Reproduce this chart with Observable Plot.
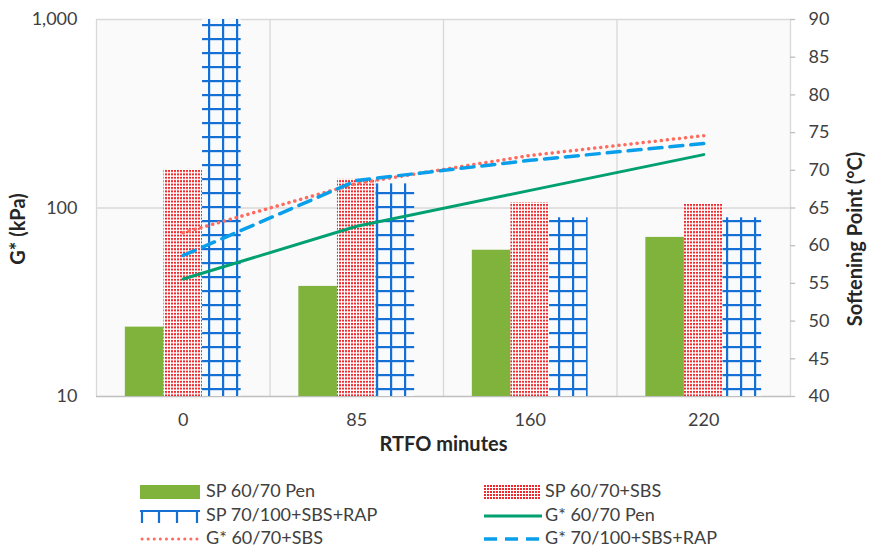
<!DOCTYPE html>
<html>
<head>
<meta charset="utf-8">
<script src="https://cdn.jsdelivr.net/npm/d3@7"></script>
<script src="https://cdn.jsdelivr.net/npm/@observablehq/plot@0.6"></script>
<style>
  body { margin: 0; background: #fff; font-family: Lato, "Open Sans", sans-serif; }
  #wrap { position: relative; width: 870px; height: 548px; }
  .lg { position: absolute; font-size: 18px; color: #404040; line-height: 20px; white-space: nowrap; }
  .sw { position: absolute; }
</style>
</head>
<body>
<div id="wrap"></div>
<script>
// ---- data ----
const categories = ["0", "85", "160", "220"];
const seriesNames = ["SP 60/70 Pen", "SP 60/70+SBS", "SP 70/100+SBS+RAP", "G* 60/70 Pen", "G* 60/70+SBS", "G* 70/100+SBS+RAP"];
// softening point (°C), right axis
const spPen = [49.2, 54.6, 59.4, 61.1];
const spSBS = [70.0, 68.8, 65.7, 65.6];
const spRAP = [90.0, 68.2, 63.7, 63.7];
// G* (kPa), left log axis
const gPen = [42, 80, 124, 192];
const gSBS = [74, 135, 190, 242];
const gRAP = [56, 140, 179, 220];
const leftTicks = [10, 100, 1000];
const rightTicks = [40, 45, 50, 55, 60, 65, 70, 75, 80, 85, 90];

// map softening point linear [40,90] onto log G* [10,1000]
const spToG = v => 10 * Math.pow(100, (v - 40) / 50);

const barW = 0.2225; // bar width in category units
const barRows = (vals, k) => vals.map((v, i) => ({i, x1: i + (k - 1.5) * barW, x2: i + (k - 0.5) * barW, top: spToG(v)}));
const lineRows = vals => vals.map((v, i) => ({i, g: v}));

const chart = Plot.plot({
  width: 870,
  height: 465,
  marginLeft: 96,
  marginRight: 80,
  marginTop: 19,
  marginBottom: 69,
  style: {fontFamily: "Lato, 'Open Sans', sans-serif", fontSize: "18px", color: "#404040", background: "transparent"},
  x: {domain: [-0.5, 3.5], axis: null},
  y: {type: "log", domain: [10, 1000], axis: null},
  marks: [
    Plot.frame({fill: "#fafafa", stroke: null}),
    Plot.ruleX([-0.5, 0.5, 1.5, 2.5, 3.5], {stroke: "#d9d9d9", strokeWidth: 1.3}),
    Plot.ruleY([100, 1000], {stroke: "#d9d9d9", strokeWidth: 1.3}),
    Plot.ruleY([10], {stroke: "#bfbfbf", strokeWidth: 1.3}),
    Plot.rectY(barRows(spPen, 0), {x1: "x1", x2: "x2", y1: 10, y2: "top", fill: "#80b33c"}),
    Plot.rectY(barRows(spSBS, 1), {x1: "x1", x2: "x2", y1: 10, y2: "top", fill: "url(#pRed)"}),
    Plot.rectY(barRows(spRAP, 2), {x1: "x1", x2: "x2", y1: 10, y2: "top", fill: "url(#pBlue)"}),
    Plot.line(lineRows(gPen), {x: "i", y: "g", stroke: "#00a070", strokeWidth: 3}),
    Plot.line(lineRows(gSBS), {x: "i", y: "g", stroke: "#ff6b5e", strokeWidth: 3.5, strokeDasharray: "0.1 6", strokeLinecap: "round"}),
    Plot.line(lineRows(gRAP), {x: "i", y: "g", stroke: "#0a9fea", strokeWidth: 3.5, strokeDasharray: "13 8"}),
    // x axis
    Plot.axisX([0, 1, 2, 3], {tickSize: 0, tickPadding: 17, tickFormat: i => categories[i], label: null, fontSize: 18}),
    // left axis
    Plot.axisY(leftTicks, {anchor: "left", tickSize: 0, tickPadding: 19, tickFormat: d3.format(","), label: null, fontSize: 18}),
    // right axis (softening point)
    Plot.ruleY(rightTicks, {y: d => spToG(d), x1: 3.5, x2: 3.53, stroke: "#bfbfbf", strokeWidth: 1.3}),
    Plot.text(rightTicks, {y: d => spToG(d), text: d => String(d), frameAnchor: "right", textAnchor: "start", dx: 18, fontSize: 18, fill: "#404040"}),
    // titles
    Plot.text(["RTFO minutes"], {frameAnchor: "bottom", textAnchor: "middle", dy: 54, fontWeight: "bold", fontSize: 20, fill: "#262626"}),
    Plot.text(["G* (kPa)"], {frameAnchor: "left", textAnchor: "middle", dx: -78, dy: 21, rotate: -90, fontWeight: "bold", fontSize: 20, fill: "#262626"}),
    Plot.text(["Softening Point (°C)"], {frameAnchor: "right", textAnchor: "middle", dx: 65, dy: 31, rotate: -90, fontWeight: "bold", fontSize: 20, fill: "#262626"})
  ]
});

d3.select(chart).insert("defs", ":first-child").html(`
  <pattern id="pRed" patternUnits="userSpaceOnUse" width="3" height="3.4">
    <rect width="3" height="3.4" fill="#ffffff"/>
    <rect width="2" height="2" fill="#ee2a2e"/>
  </pattern>
  <pattern id="pBlue" patternUnits="userSpaceOnUse" x="6" y="0" width="14" height="14">
    <rect width="14" height="14" fill="#f9fafc"/>
    <rect x="6" y="0" width="2.2" height="14" fill="#1570d6"/>
    <rect x="0" y="10" width="14" height="2.2" fill="#1570d6"/>
  </pattern>
  <pattern id="pRedL" patternUnits="userSpaceOnUse" width="3" height="3">
    <rect width="3" height="3" fill="#ffffff"/>
    <rect width="2" height="2" fill="#ee2a2e"/>
  </pattern>
`);

const wrap = document.getElementById("wrap");
wrap.appendChild(chart);
chart.style.position = "absolute";
chart.style.left = "0px";
chart.style.top = "0px";

// ---- legend ----
const swatches = [
  `<svg width="60" height="14"><rect x="0" y="0" width="60" height="14" fill="#80b33c"/></svg>`,
  `<svg width="56" height="14"><rect x="0" y="0" width="56" height="14" fill="url(#pRedL)"/></svg>`,
  `<svg width="60" height="14"><path d="M0,2H60M2,2V14M19,2V14M37,2V14M57,2V14" stroke="#1570d6" stroke-width="2.2" fill="none"/></svg>`,
  `<svg width="58" height="14"><line x1="0" y1="7" x2="58" y2="7" stroke="#00a070" stroke-width="3"/></svg>`,
  `<svg width="60" height="14"><line x1="2" y1="7" x2="60" y2="7" stroke="#ff6b5e" stroke-width="3" stroke-dasharray="0.1 6" stroke-linecap="round"/></svg>`,
  `<svg width="58" height="14"><line x1="0" y1="7" x2="58" y2="7" stroke="#0a9fea" stroke-width="3.5" stroke-dasharray="13 8"/></svg>`
];
const pos = [
  {sx: 140, tx: 206, y: 490},
  {sx: 484, tx: 545, y: 490},
  {sx: 140, tx: 206, y: 514},
  {sx: 484, tx: 545, y: 514},
  {sx: 140, tx: 206, y: 537},
  {sx: 484, tx: 545, y: 537}
];
seriesNames.forEach((name, j) => {
  const p = pos[j];
  const s = document.createElement("div");
  s.className = "sw";
  s.style.left = p.sx + "px";
  s.style.top = (p.y - 7) + "px";
  s.style.height = "14px";
  s.innerHTML = swatches[j];
  wrap.appendChild(s);
  const t = document.createElement("div");
  t.className = "lg";
  t.style.left = p.tx + "px";
  t.style.top = (p.y - 10) + "px";
  t.textContent = name;
  wrap.appendChild(t);
});
</script>
</body>
</html>
